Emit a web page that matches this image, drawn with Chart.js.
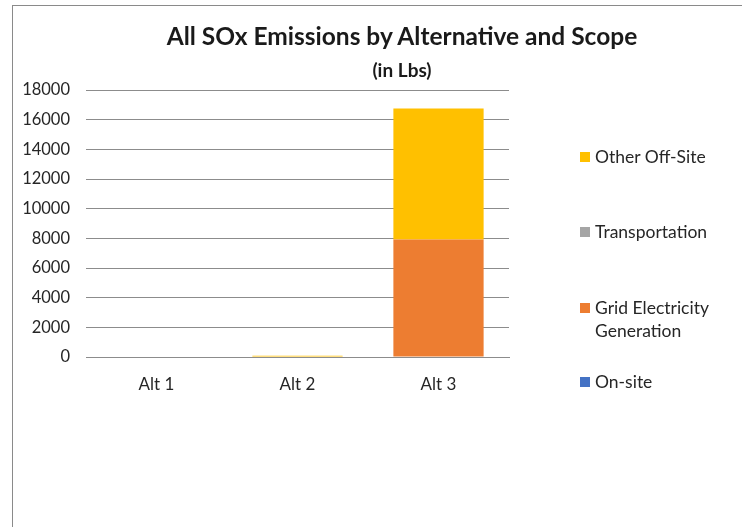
<!DOCTYPE html>
<html>
<head>
<meta charset="utf-8">
<script src="https://cdn.jsdelivr.net/npm/chart.js@4"></script>
<style>
  html, body { margin: 0; padding: 0; background: #fff; }
  #wrap { position: relative; width: 742px; height: 527px; overflow: hidden; font-family: Lato, "Open Sans", sans-serif; }
  #frame { position: absolute; left: 12px; top: 5px; width: 800px; height: 600px; border-left: 1px solid #8a8a8a; border-top: 1px solid #8a8a8a; }
  #c { position: absolute; left: 0; top: 0; }
  .title { position: absolute; left: 0; width: 804px; text-align: center; color: #1a1a1a; font-weight: bold; }
  #t1 { top: 21px; font-size: 24.5px; }
  #t2 { top: 58px; font-size: 19px; }
  .leg { position: absolute; left: 580px; font-size: 17.5px; color: #262626; line-height: 23px; }
  .leg span.box { position: absolute; left: 0; top: 7px; width: 10px; height: 10px; }
  .leg span.txt { display: block; margin-left: 15px; }
</style>
</head>
<body>
<div id="wrap">
  <div id="frame"></div>
  <canvas id="c" width="742" height="527"></canvas>
  <div class="title" id="t1">All SOx Emissions by Alternative and Scope</div>
  <div class="title" id="t2">(in Lbs)</div>
  <div id="legend"></div>
</div>
<script>
const categories = ["Alt 1", "Alt 2", "Alt 3"];
const onSite = [0, 0, 0];
const gridElectricity = [0, 0, 7920];
const transportation = [0, 0, 0];
const otherOffSite = [0, 80, 8830];
const seriesNames = ["On-site", "Grid Electricity Generation", "Transportation", "Other Off-Site"];
const seriesColors = ["#4472C4", "#ED7D31", "#A5A5A5", "#FFC000"];
const yTicks = [0, 2000, 4000, 6000, 8000, 10000, 12000, 14000, 16000, 18000];

const seriesData = [onSite, gridElectricity, transportation, otherOffSite];
const datasets = seriesNames.map((n, i) => ({
  label: n,
  data: seriesData[i],
  backgroundColor: seriesColors[i],
  borderWidth: 0,
  barPercentage: 0.64,
  categoryPercentage: 1.0
}));

new Chart(document.getElementById('c'), {
  type: 'bar',
  data: { labels: categories, datasets },
  options: {
    responsive: false,
    animation: false,
    layout: { padding: { left: 0, right: 233, top: 90, bottom: 0 } },
    plugins: { legend: { display: false }, title: { display: false }, tooltip: { enabled: false } },
    scales: {
      x: {
        stacked: true,
        grid: { display: false },
        border: { display: true, color: '#8c8c8c', width: 1 },
        ticks: { color: '#262626', font: { family: 'Lato', size: 17 }, padding: 9 },
        afterFit: s => { s.height = 170; }
      },
      y: {
        stacked: true,
        min: 0, max: 18000,
        afterBuildTicks: s => { s.ticks = yTicks.map(v => ({ value: v })); },
        grid: { color: '#8c8c8c', lineWidth: 1, drawTicks: false },
        border: { display: false },
        ticks: { color: '#262626', font: { family: 'Lato', size: 16.5 }, padding: 16, callback: v => String(v) },
        afterFit: s => { s.width = 86; }
      }
    }
  }
});

// legend (reversed order as in reference)
const legendPos = [{ top: 145 }, { top: 220 }, { top: 296 }, { top: 370 }];
const legEl = document.getElementById('legend');
const order = [3, 2, 1, 0];
const legendText = ["Other Off-Site", "Transportation", "Grid Electricity<br>Generation", "On-site"];
order.forEach((idx, k) => {
  const d = document.createElement('div');
  d.className = 'leg';
  d.style.top = legendPos[k].top + 'px';
  d.innerHTML = '<span class="box" style="background:' + seriesColors[idx] + '"></span><span class="txt">' + legendText[k] + '</span>';
  legEl.appendChild(d);
});
</script>
</body>
</html>
